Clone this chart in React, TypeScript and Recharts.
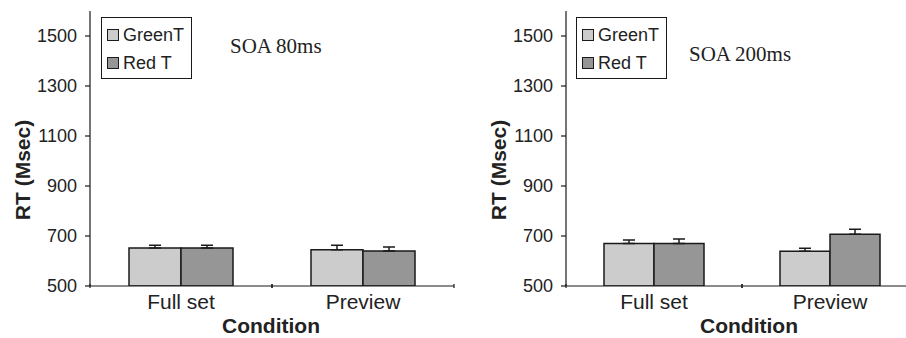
import { Bar, BarChart, ErrorBar, Legend, XAxis, YAxis } from 'recharts';

const conditions = ['Full set', 'Preview'];
const yTicks = [500, 700, 900, 1100, 1300, 1500];

// SOA 80ms
const green80 = [652, 645];
const red80 = [652, 640];
const greenErr80 = [11, 18];
const redErr80 = [11, 16];

// SOA 200ms
const green200 = [670, 639];
const red200 = [670, 707];
const greenErr200 = [14, 12];
const redErr200 = [18, 20];

const GREEN_FILL = '#cccccc';
const RED_FILL = '#969696';
const INK = '#1a1a1a';

function buildRows(green: number[], red: number[], gErr: number[], rErr: number[]) {
  return conditions.map((name, i) => ({
    name,
    green: green[i],
    red: red[i],
    greenErr: [0, gErr[i]],
    redErr: [0, rErr[i]],
  }));
}

function LegendBox() {
  const item = (label: string, fill: string) => (
    <div style={{ display: 'flex', alignItems: 'center', height: 28 }}>
      <span
        style={{
          display: 'inline-block',
          width: 10,
          height: 10,
          background: fill,
          border: `1.5px solid ${INK}`,
          marginRight: 4,
        }}
      />
      <span>{label}</span>
    </div>
  );
  return (
    <div
      style={{
        width: 91,
        height: 62,
        border: `1px solid ${INK}`,
        background: '#fff',
        boxSizing: 'border-box',
        padding: '3px 0 0 5px',
        fontFamily: 'Arial, "Liberation Sans", sans-serif',
        fontSize: 18,
        color: '#222',
        lineHeight: 1,
      }}
    >
      {item('GreenT', GREEN_FILL)}
      {item('Red T', RED_FILL)}
    </div>
  );
}

interface PanelProps {
  left: number;
  width: number;
  barSize: number;
  halfBand: number;
  rows: ReturnType<typeof buildRows>;
  title: string;
  titlePos: { x: number; y: number };
  legendPos: { x: number; y: number };
  conditionShift: number;
}

function Panel({ left, width, barSize, halfBand, rows, title, titlePos, legendPos, conditionShift }: PanelProps) {
  const Tick = (props: any) => {
    const { x, y, payload } = props;
    return (
      <g>
        <line x1={x - halfBand} y1={y - 8} x2={x - halfBand} y2={y - 4} stroke={INK} strokeWidth={1.2} />
        <line x1={x + halfBand} y1={y - 8} x2={x + halfBand} y2={y - 4} stroke={INK} strokeWidth={1.2} />
        <text x={x} y={y + 17} textAnchor="middle" fontSize={21} fill="#222">
          {payload.value}
        </text>
      </g>
    );
  };

  return (
    <div style={{ position: 'absolute', left, top: 0, width, height: 338 }}>
      <BarChart
        width={width}
        height={338}
        data={rows}
        margin={{ top: 11, right: 1, bottom: 0, left: 0 }}
        barGap={0}
        style={{ fontFamily: 'Arial, "Liberation Sans", sans-serif' }}
      >
        <XAxis
          dataKey="name"
          type="category"
          height={52}
          axisLine={{ stroke: INK, strokeWidth: 1.2 }}
          tickLine={false}
          tick={<Tick />}
          tickMargin={0}
          label={{
            content: (p: any) => {
              const vb = p.viewBox;
              return (
                <text
                  x={vb.x + vb.width / 2 + conditionShift}
                  y={333}
                  textAnchor="middle"
                  fontSize={21}
                  fontWeight="bold"
                  fill="#222"
                >
                  Condition
                </text>
              );
            },
          }}
        />
        <XAxis xAxisId="top" dataKey="name" orientation="top" height={0} tick={false} tickLine={false} axisLine={{ stroke: INK, strokeWidth: 1.2 }} />
        <YAxis
          domain={[500, 1600]}
          ticks={yTicks}
          width={90}
          interval={0}
          allowDataOverflow
          axisLine={{ stroke: INK, strokeWidth: 1.2 }}
          tickLine={{ stroke: INK, strokeWidth: 1.2 }}
          tickSize={5}
          tickMargin={8}
          tick={{ fontSize: 18, fill: '#222' }}
          label={{
            content: (p: any) => {
              const vb = p.viewBox;
              const cx = vb.x + vb.width - 68;
              return (
                <text
                  x={cx}
                  y={170}
                  transform={`rotate(-90, ${cx}, 170)`}
                  textAnchor="middle"
                  dominantBaseline="central"
                  fontSize={21}
                  fontWeight="bold"
                  fill="#222"
                >
                  RT (Msec)
                </text>
              );
            },
          }}
        />
        <YAxis yAxisId="right" orientation="right" width={0} domain={[500, 1600]} tick={false} tickLine={false} axisLine={{ stroke: INK, strokeWidth: 1.2 }} />
        <Legend
          layout="horizontal"
          align="center"
          verticalAlign="middle"
          wrapperStyle={{ left: legendPos.x, top: legendPos.y, width: 'auto' }}
          content={() => <LegendBox />}
        />
        <Bar dataKey="green" name="GreenT" fill={GREEN_FILL} stroke={INK} strokeWidth={1.5} barSize={barSize} isAnimationActive={false}>
          <ErrorBar dataKey="greenErr" width={6} stroke={INK} strokeWidth={1.5} direction="y" />
        </Bar>
        <Bar dataKey="red" name="Red T" fill={RED_FILL} stroke={INK} strokeWidth={1.5} barSize={barSize} isAnimationActive={false}>
          <ErrorBar dataKey="redErr" width={6} stroke={INK} strokeWidth={1.5} direction="y" />
        </Bar>
      </BarChart>
      <div
        style={{
          position: 'absolute',
          left: titlePos.x,
          top: titlePos.y,
          fontFamily: '"Liberation Serif", "Times New Roman", serif',
          fontSize: 21,
          color: '#222',
          lineHeight: 1,
          whiteSpace: 'nowrap',
        }}
      >
        {title}
      </div>
    </div>
  );
}

export default function App() {
  return (
    <div style={{ position: 'absolute', left: 0, top: 0, width: 906, height: 338, overflow: 'hidden', background: '#fff' }}>
      <Panel
        left={0}
        width={455}
        barSize={52}
        halfBand={91}
        rows={buildRows(green80, red80, greenErr80, redErr80)}
        title="SOA 80ms"
        titlePos={{ x: 230, y: 36 }}
        legendPos={{ x: 101, y: 17 }}
        conditionShift={-1}
      />
      <Panel
        left={476}
        width={443}
        barSize={50}
        halfBand={88}
        rows={buildRows(green200, red200, greenErr200, redErr200)}
        title="SOA 200ms"
        titlePos={{ x: 213, y: 44 }}
        legendPos={{ x: 100, y: 17 }}
        conditionShift={7}
      />
    </div>
  );
}
